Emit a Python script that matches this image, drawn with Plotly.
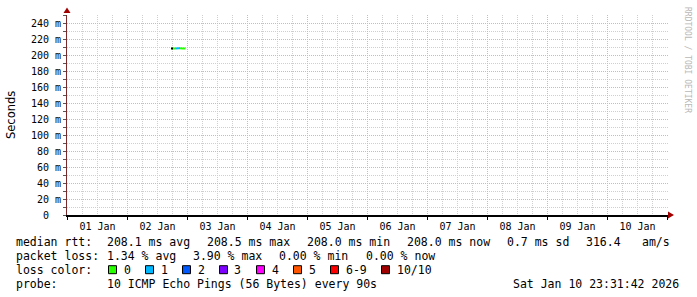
import plotly.graph_objects as go
import pandas as pd

# ---------------- data ----------------
times = ["2026-01-02 17:48", "2026-01-02 18:36", "2026-01-02 19:24", "2026-01-02 20:12",
         "2026-01-02 21:00", "2026-01-02 21:48", "2026-01-02 22:36", "2026-01-02 23:12"]
median_ms = [208.0, 208.2, 208.1, 208.5, 208.3, 208.0, 208.1, 208.0]
loss_pings = [0, 0, 0, 1, 1, 0, 0, 0]

y_tick_vals = [0, 20, 40, 60, 80, 100, 120, 140, 160, 180, 200, 220, 240]
y_tick_text = ["0\u00a0\u00a0", "20 m", "40 m", "60 m", "80 m", "100 m", "120 m", "140 m",
               "160 m", "180 m", "200 m", "220 m", "240 m"]
y_minor_vals = [10, 30, 50, 70, 90, 110, 130, 150, 170, 190, 210, 230, 250]

loss_labels = ["0", "1", "2", "3", "4", "5", "6-9", "10/10"]
loss_colors = ["#26ff00", "#00b8ff", "#0059ff", "#7e00ff", "#ff00ff", "#ff5500", "#ff0000", "#a10000"]

median_stats = ["208.1 ms avg", "208.5 ms max", "208.0 ms min", "208.0 ms now", "0.7 ms sd"]
amps_value = "316.4"
loss_stats = ["1.34 % avg", "3.90 % max", "0.00 % min", "0.00 % now"]
probe_text = "10 ICMP Echo Pings (56 Bytes) every 90s"
stamp_text = "Sat Jan 10 23:31:42 2026"

# ---------------- geometry ----------------
W, H = 697, 297
L, R, T, B = 67, 29, 15, 82
PW = W - L - R
PH = H - T - B
MONO = "DejaVu Sans Mono"


def px(x):
    return (x - L) / PW


def py(y):
    return (T + PH - y) / PH


x0 = pd.Timestamp("2026-01-01 00:00") - pd.Timedelta(minutes=12)
x1 = x0 + pd.Timedelta(minutes=24 * PW)

fig = go.Figure()

# median line coloured by loss
tt = pd.to_datetime(times)
level_of = {}
for i in range(len(tt) - 1):
    lv = loss_pings[i + 1]
    idx = 0 if lv == 0 else (lv if lv <= 5 else (6 if lv < 10 else 7))
    level_of.setdefault(idx, []).append(i)
for idx, segs in level_of.items():
    xs, ys = [], []
    for i in segs:
        xs += [tt[i], tt[i + 1], None]
        ys += [median_ms[i], median_ms[i + 1], None]
    fig.add_trace(go.Scatter(x=xs, y=ys, mode="lines", line=dict(color=loss_colors[idx], width=2),
                             showlegend=False, hoverinfo="skip"))
fig.add_trace(go.Scatter(x=[tt[0]], y=[median_ms[0]], mode="markers",
                         marker=dict(color="black", size=2, symbol="square"),
                         showlegend=False, hoverinfo="skip"))

ann = []
shapes = []

def txt(x, y, s, size=11.5, color="black", family=MONO, anchor="left", angle=0):
    ann.append(dict(x=px(x), y=py(y), xref="paper", yref="paper", text=s, showarrow=False,
                    xanchor=anchor, yanchor="middle", textangle=angle, borderpad=0,
                    font=dict(family=family, size=size, color=color)))

# axis title and watermark
txt(11, 115, "Seconds", size=11.5, family="DejaVu Sans", anchor="center", angle=-90)
txt(687, 60, "RRDTOOL / TOBI OETIKER", size=8, color="#b8b8b8", anchor="center", angle=90)

# legend lines
Y1, Y2, Y3, Y4 = 241.7, 255.7, 269.7, 283.5
txt(15, Y1, "median rtt:")
for k, s in enumerate(median_stats):
    txt(106 + 100 * k, Y1, s)
txt(585, Y1, amps_value)
txt(641, Y1, "am/s")

txt(15, Y2, "packet loss:")
for k, s in enumerate(loss_stats):
    txt(106 + 86.2 * k, Y2, s)

txt(15, Y3, "loss color:")
bx = 108.5
for lab, col in zip(loss_labels, loss_colors):
    shapes.append(dict(type="rect", xref="paper", yref="paper",
                       x0=px(bx), x1=px(bx + 8), y0=py(Y3 + 4), y1=py(Y3 - 4),
                       fillcolor=col, line=dict(color="black", width=1)))
    txt(bx + 14, Y3, lab)
    bx += 15 + 7.0 * len(lab) + 15

txt(15, Y4, "probe:")
txt(106, Y4, probe_text)
txt(512, Y4, stamp_text)

# arrows
ARROW = "#a00000"
shapes.append(dict(type="path", xref="paper", yref="paper",
                   path=f"M {px(63.5)} {py(13)} L {px(70.5)} {py(13)} L {px(67)} {py(7.5)} Z",
                   fillcolor=ARROW, line=dict(width=0)))
shapes.append(dict(type="path", xref="paper", yref="paper",
                   path=f"M {px(668)} {py(211.5)} L {px(668)} {py(218.5)} L {px(674)} {py(215)} Z",
                   fillcolor=ARROW, line=dict(width=0)))

GRID_MIN = "#cfcfcf"
GRID_MAJ = "#e2b0b0"
DOT = "1px,1px"

fig.update_layout(
    width=W, height=H,
    margin=dict(l=L, r=R, t=T, b=B, pad=0),
    paper_bgcolor="white", plot_bgcolor="white",
    showlegend=False,
    annotations=ann, shapes=shapes,
    xaxis=dict(type="date", range=[x0, x1], tick0="2026-01-01", dtick=86400000,
               ticklabelmode="period", tickformat="%d %b",
               ticks="outside", ticklen=3, tickcolor="black", ticklabelstandoff=-2,
               tickfont=dict(family=MONO, size=10, color="black"),
               showgrid=True, gridcolor=GRID_MAJ, griddash=DOT, gridwidth=1,
               minor=dict(tick0="2026-01-01", dtick=6 * 3600000, showgrid=True,
                          gridcolor=GRID_MIN, griddash=DOT, gridwidth=1, ticks=""),
               showline=True, linecolor="black", linewidth=2, zeroline=False,
               fixedrange=True),
    yaxis=dict(range=[0, 250], tickmode="array", tickvals=y_tick_vals, ticktext=y_tick_text,
               ticks="outside", ticklen=3, tickcolor="#555555",
               tickfont=dict(family=MONO, size=10, color="black"),
               showgrid=True, gridcolor=GRID_MAJ, griddash=DOT, gridwidth=1,
               minor=dict(tickmode="array", tickvals=y_minor_vals, ticks="outside", ticklen=3,
                          tickcolor="#555555", showgrid=True, gridcolor=GRID_MIN,
                          griddash=DOT, gridwidth=1),
               showline=True, linecolor="#7a2a2a", linewidth=1, zeroline=False,
               fixedrange=True),
)

fig.write_html("out.html")
